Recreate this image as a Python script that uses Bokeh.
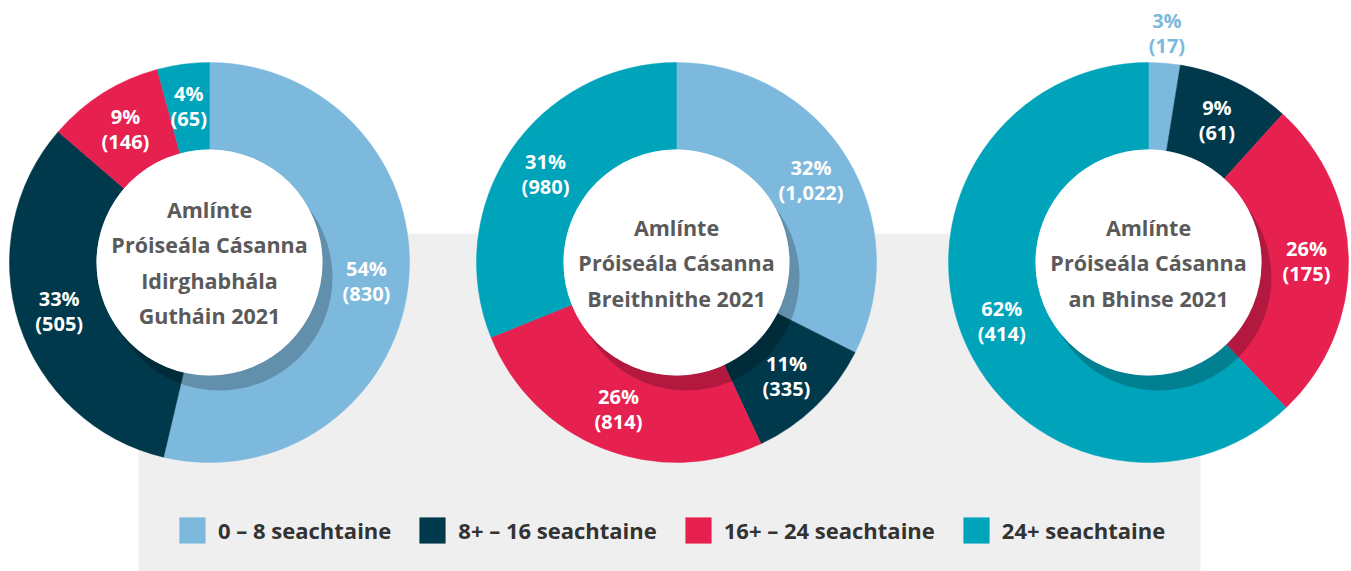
import math
from bokeh.plotting import figure
from bokeh.models import Range1d, BoxAnnotation, Legend, LegendItem
from bokeh.core.properties import value
from bokeh.embed import file_html
from bokeh.resources import INLINE

# ---------------- data ----------------
categories = ["0 – 8 seachtaine", "8+ – 16 seachtaine", "16+ – 24 seachtaine", "24+ seachtaine"]
counts_guthain = [830, 505, 146, 65]
counts_breithnithe = [1022, 335, 814, 980]
counts_binse = [17, 61, 175, 414]
chart_titles = [
    ["Amlínte", "Próiseála Cásanna", "Idirghabhála", "Gutháin 2021"],
    ["Amlínte", "Próiseála Cásanna", "Breithnithe 2021"],
    ["Amlínte", "Próiseála Cásanna", "an Bhinse 2021"],
]
series = [counts_guthain, counts_breithnithe, counts_binse]

# ---------------- style / layout ----------------
colors = ["#7db8dd", "#00394b", "#e62150", "#00a4ba"]
FONT = "Open Sans"
W, H = 1351, 571
centers_x = [209, 676, 1148]
center_y = 309
R_OUT, R_IN = 200, 113
R_LABEL = 158
R_LABEL_OUT = 230

p = figure(width=W, height=H, output_backend="svg", toolbar_location=None,
           x_range=Range1d(0, W), y_range=Range1d(571 - H, 571),
           x_axis_type=None, y_axis_type=None, min_border=0,
           background_fill_color="white", border_fill_color="white")
p.outline_line_color = None
p.grid.visible = False

# grey panel behind lower part
p.add_layout(BoxAnnotation(left=138, right=1200, bottom=0, top=338,
                           fill_color="#efefef", fill_alpha=1, line_color=None,
                           level="underlay"))

# wedges: one renderer per category, one wedge per chart
fractions = []
for vals in series:
    tot = sum(vals)
    fractions.append([v / tot for v in vals])

renderers = []
for k, cat in enumerate(categories):
    xs, starts, ends = [], [], []
    for c, fr in enumerate(fractions):
        c0 = sum(fr[:k])
        c1 = c0 + fr[k]
        xs.append(centers_x[c])
        starts.append(math.pi / 2 - 2 * math.pi * c0)
        ends.append(math.pi / 2 - 2 * math.pi * c1)
    r = p.annular_wedge(x=xs, y=[center_y] * 3, inner_radius=R_IN, outer_radius=R_OUT,
                        start_angle=starts, end_angle=ends, direction="clock",
                        fill_color=colors[k], line_color=colors[k], line_width=0.5)
    renderers.append(r)

# inner shadow and white hole
p.circle(x=[cx + 10 for cx in centers_x], y=[center_y - 15] * 3, radius=R_IN,
         fill_color="black", fill_alpha=0.22, line_color=None)
p.circle(x=centers_x, y=[center_y] * 3, radius=R_IN,
         fill_color="white", line_color=None)

# centre titles
for c, lines in enumerate(chart_titles):
    n = len(lines)
    step = 35.5
    ys = [center_y + (n - 1) / 2 * step - i * step for i in range(n)]
    p.text(x=[centers_x[c]] * n, y=ys, text=lines, text_font=value(FONT),
           text_font_style="bold", text_font_size="21.5px", text_color="#5a5a5a",
           text_align="center", text_baseline="middle")

# slice labels
for c, vals in enumerate(series):
    tot = sum(vals)
    fr = fractions[c]
    for k, v in enumerate(vals):
        mid = sum(fr[:k]) + fr[k] / 2
        ang = math.pi / 2 - 2 * math.pi * mid
        small = fr[k] < 0.035
        rr = R_LABEL_OUT if small else R_LABEL
        lx = centers_x[c] + rr * math.cos(ang)
        ly = center_y + rr * math.sin(ang)
        pct = f"{round(100 * v / tot)}%"
        num = f"({v:,})"
        p.text(x=[lx, lx], y=[ly + 12.5, ly - 12.5], text=[pct, num],
               text_font=value(FONT), text_font_style="bold", text_font_size="20px",
               text_color=colors[k] if small else "white",
               text_align="center", text_baseline="middle")

# legend
legend = Legend(items=[LegendItem(label=cat, renderers=[renderers[k]]) for k, cat in enumerate(categories)],
                orientation="horizontal", location=(176, 25),
                glyph_width=32, glyph_height=32, label_standoff=10, spacing=25,
                padding=0, margin=0, border_line_color=None, background_fill_alpha=0,
                label_text_font=FONT, label_text_font_size="22px",
                label_text_font_style="bold", label_text_color="#333333",
                label_height=32)
p.add_layout(legend, "center")

open("out.html", "w").write(file_html(p, INLINE))
